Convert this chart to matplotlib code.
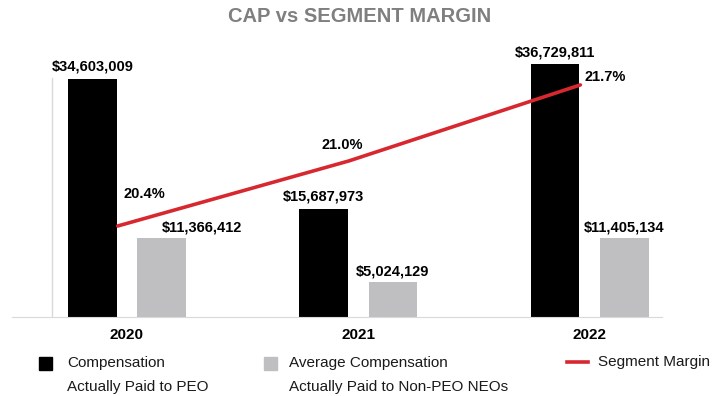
import matplotlib.pyplot as plt
from matplotlib.patches import Rectangle
from matplotlib.lines import Line2D
import numpy as np

plt.rcParams['font.family'] = ['Liberation Sans', 'DejaVu Sans']

# 数据
years = ['2020', '2021', '2022']
peo_cap = [34603009, 15687973, 36729811]
neo_cap = [11366412, 5024129, 11405134]
segment_margin = [20.4, 21.0, 21.7]

W, H = 720, 396


def px(x, y):
    # 像素坐标 -> figure 坐标
    return x / W, 1 - y / H


fig = plt.figure(figsize=(7.2, 3.96), dpi=100)
ax = fig.add_axes([12 / W, 79.5 / H, 650 / W, 276.5 / H])
ax2 = ax.twinx()

x = np.arange(len(years))
w = 0.21
ax.bar(x - 0.15, peo_cap, width=w, color='black', zorder=2)
ax.bar(x + 0.15, neo_cap, width=w, color='#bfbfc1', zorder=2)
ax2.plot(x - 0.04, segment_margin, color='#d7282f', lw=2.6,
         solid_capstyle='round', zorder=3)

ax.set_xlim(-0.497, 2.313)
ax.set_ylim(0, 40.28e6)
ax2.set_ylim(19.566, 22.114)

# 柱子上方的数值
for i in range(len(years)):
    ax.annotate(f'${peo_cap[i]:,}', (x[i] - 0.15, peo_cap[i]),
                xytext=(0, 12), textcoords='offset pixels',
                ha='center', va='center', fontsize=10.5, fontweight='bold')
    dx = 40 if i == 0 else 0
    ax.annotate(f'${neo_cap[i]:,}', (x[i] + 0.15, neo_cap[i]),
                xytext=(dx, 11), textcoords='offset pixels',
                ha='center', va='center', fontsize=10.5, fontweight='bold')

# 折线标签
pct_off = [(27, 32), (-7, 16), (25, 8)]
for i in range(len(years)):
    ax2.annotate(f'{segment_margin[i]:.1f}%', (x[i] - 0.04, segment_margin[i]),
                 xytext=pct_off[i], textcoords='offset pixels',
                 ha='center', va='center', fontsize=10.5, fontweight='bold')

ax.set_xticks(x)
ax.set_xticklabels(years, fontsize=11, fontweight='bold')
ax.tick_params(axis='x', length=0, pad=8.5)
ax.set_yticks([])
ax2.set_yticks([])
for a in (ax, ax2):
    for s in ['top', 'right', 'left', 'bottom']:
        a.spines[s].set_visible(False)
ax.spines['bottom'].set_visible(True)
ax.spines['bottom'].set_color('#d9d9d9')
ax.axvline(-0.324, ymin=0, ymax=0.8626, color='#d9d9d9', lw=1, zorder=1)

fig.text(0.5, 1 - 17 / H, 'CAP vs SEGMENT MARGIN', ha='center', va='center',
         fontsize=14.5, fontweight='bold', color='#7f7f7f')

# 图例
fig.add_artist(Rectangle(px(39, 370), 13 / W, 13 / H, transform=fig.transFigure,
                         color='black'))
fig.add_artist(Rectangle(px(264, 370), 13 / W, 13 / H, transform=fig.transFigure,
                         color='#bfbfc1'))
fig.add_artist(Line2D([567 / W, 588 / W], [1 - 362 / H] * 2,
                      transform=fig.transFigure, color='#d7282f', lw=2.6))
leg = [(67, 'Compensation', 'Actually Paid to PEO'),
       (289, 'Average Compensation', 'Actually Paid to Non-PEO NEOs')]
for lx, l1, l2 in leg:
    fig.text(*px(lx, 363), l1, ha='left', va='center', fontsize=11, color='#1a1a1a')
    fig.text(*px(lx, 387), l2, ha='left', va='center', fontsize=11, color='#1a1a1a')
fig.text(*px(598, 362), 'Segment Margin', ha='left', va='center', fontsize=11,
         color='#1a1a1a')

fig.savefig('out.png', dpi=100)
